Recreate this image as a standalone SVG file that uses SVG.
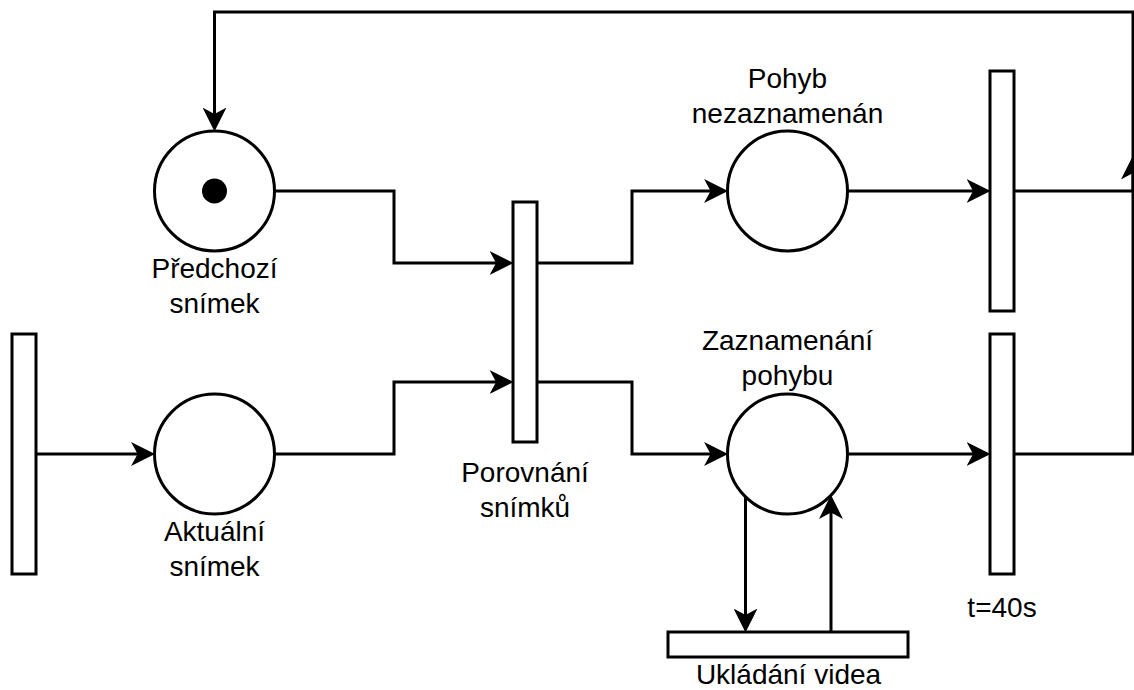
<svg xmlns="http://www.w3.org/2000/svg" width="1134" height="690" viewBox="0 0 1134 690">
<style>
.shape{fill:#fff;stroke:#000;stroke-width:3}
.edge{fill:none;stroke:#000;stroke-width:3}
text{font-family:"Liberation Sans",Arial,sans-serif;font-size:28px;fill:#000;text-anchor:middle}
</style>
<defs>
<marker id="arr" markerUnits="userSpaceOnUse" markerWidth="24" markerHeight="24" viewBox="0 0 22 22" refX="16" refY="11" orient="auto">
<path d="M22,11 L0,0 L6,11 L0,22 Z" fill="#000"/>
</marker>
</defs>
<rect width="1134" height="690" fill="#fff"/>
<g id="connectors">
<path class="edge" d="M274.5,191 H394 V263 H507" marker-end="url(#arr)"/>
<path class="edge" d="M274.5,454 H394 V382 H507" marker-end="url(#arr)"/>
<path class="edge" d="M36,454 H148.5" marker-end="url(#arr)"/>
<path class="edge" d="M537,263 H632 V191 H721.5" marker-end="url(#arr)"/>
<path class="edge" d="M537,382 H632 V454 H721.5" marker-end="url(#arr)"/>
<path class="edge" d="M847.5,191 H984" marker-end="url(#arr)"/>
<path class="edge" d="M847.5,454 H984" marker-end="url(#arr)"/>
<path class="edge" d="M1014,191 H1133 V162" marker-end="url(#arr)"/>
<path class="edge" d="M1014,454 H1133 V12 H214.5 V125" marker-end="url(#arr)"/>
<path class="edge" d="M745.5,497 V626" marker-end="url(#arr)"/>
<path class="edge" d="M831,632 V501.5" marker-end="url(#arr)"/>
</g>
<g id="place-predchozi">
<circle class="shape" cx="214.5" cy="191" r="60"/>
<circle cx="214.5" cy="191" r="12.5" fill="#000"/>
<text x="214.5" y="277.5">Předchozí</text>
<text x="214.5" y="313">snímek</text>
</g>
<g id="place-aktualni">
<circle class="shape" cx="214.5" cy="454" r="60"/>
<text x="214.5" y="541">Aktuální</text>
<text x="214.5" y="576">snímek</text>
</g>
<g id="trans-vstup">
<rect class="shape" x="12" y="334" width="24" height="240"/>
</g>
<g id="trans-porovnani">
<rect class="shape" x="513" y="202" width="24" height="240"/>
<text x="525" y="481.5">Porovnání</text>
<text x="525" y="517">snímků</text>
</g>
<g id="place-nezaznamenan">
<circle class="shape" cx="787.5" cy="191" r="60"/>
<text x="787.5" y="87.5">Pohyb</text>
<text x="787.5" y="123">nezaznamenán</text>
</g>
<g id="place-zaznamenani">
<circle class="shape" cx="787.5" cy="454" r="60"/>
<text x="787.5" y="350">Zaznamenání</text>
<text x="787.5" y="385">pohybu</text>
</g>
<g id="trans-top">
<rect class="shape" x="990" y="71" width="24" height="240"/>
</g>
<g id="trans-t40">
<rect class="shape" x="990" y="334" width="24" height="240"/>
<text x="1002" y="616.5">t=40s</text>
</g>
<g id="trans-ukladani">
<rect class="shape" x="668" y="632" width="240" height="25"/>
<text x="788.5" y="684">Ukládání videa</text>
</g>
</svg>
